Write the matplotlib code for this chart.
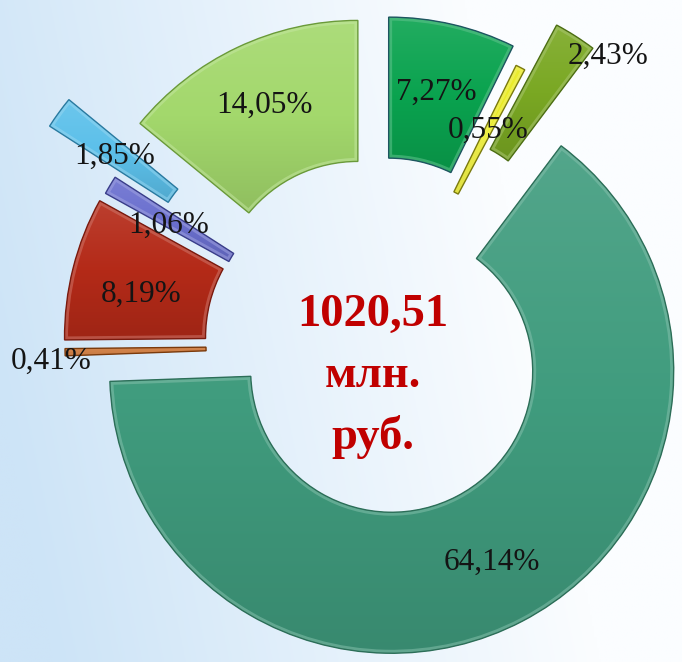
import numpy as np
import matplotlib
matplotlib.use("Agg")
import matplotlib.pyplot as plt
from matplotlib.colors import to_rgb, LinearSegmentedColormap
from matplotlib.patches import PathPatch

# ---- data (clockwise from 12 o'clock) ----
labels = ["7,27%", "0,55%", "2,43%", "64,14%", "0,41%", "8,19%", "1,06%", "1,85%", "14,05%"]
shares = [7.27, 0.55, 2.43, 64.14, 0.41, 8.19, 1.06, 1.85, 14.05]
center_lines = ["1020,51", "млн.", "руб."]

# ---- style ----
colors = ["#0aa34f", "#e9ea1c", "#7aa823", "#409c7e", "#c4621c", "#b42a18", "#6b70cf", "#5cc0ea", "#a3d86c"]
edges = ["#1d5560", "#7a7a10", "#4d6e14", "#2c6e58", "#7a3a0c", "#7a1a0e", "#3a3e8a", "#2a7aa0", "#6a9a3a"]
explode = [0.167, 0.106, 0.30, 0.105, 0.11, 0.115, 0.106, 0.40, 0.167]
label_r = [0.92, 0.855, 1.31, 0.87, 1.16, 0.86, 0.855, 1.15, 0.94]
label_dtheta = [0, 0, 6, 0, -1.5, -2, -1, -0.5, 0]


def mix(c, other, t):
    c = np.array(to_rgb(c))
    return tuple(c * (1 - t) + np.array(other) * t)


W, H = 682, 662
fig = plt.figure(figsize=(W / 100, H / 100), dpi=100)
ax = fig.add_axes([0, 0, 1, 1])

scale = 282.0
cx, cy = 378.0, 345.0
xlim = (-cx / scale, (W - cx) / scale)
ylim = (-(H - cy) / scale, cy / scale)

# background gradient
xs = np.linspace(0, 1, 300)
ys = np.linspace(0, 1, 300)
X, Y = np.meshgrid(xs, ys)
left = np.array(to_rgb("#cde4f7"))
right = np.array(to_rgb("#fbfdff"))
t = np.clip(X * 1.25 + (1 - Y) * 0.25 - 0.1, 0, 1)[..., None]
img = left * (1 - t) + right * t
ax.imshow(img, extent=(xlim[0], xlim[1], ylim[0], ylim[1]), origin="upper",
          aspect="auto", zorder=0)

wedges, _ = ax.pie(shares, colors=colors, explode=explode, startangle=90,
                   counterclock=False, radius=1.0,
                   wedgeprops=dict(width=0.5, linewidth=0))

grad = np.linspace(0, 1, 256).reshape(-1, 1)
for w, c, ec in zip(wedges, colors, edges):
    w.set_zorder(2)
    path = w.get_path()
    ext = path.get_extents()
    cmap = LinearSegmentedColormap.from_list(
        "g", [mix(c, (0, 0, 0), 0.12), c, mix(c, (1, 1, 1), 0.10)])
    im = ax.imshow(grad, extent=(ext.x0, ext.x1, ext.y0, ext.y1), origin="lower",
                   cmap=cmap, aspect="auto", zorder=2.1, interpolation="bilinear")
    im.set_clip_path(w)
    hl = PathPatch(path, facecolor="none", edgecolor=mix(c, (1, 1, 1), 0.35),
                   linewidth=5, alpha=0.55, zorder=2.2, transform=ax.transData)
    ax.add_patch(hl)
    hl.set_clip_path(w)
    ol = PathPatch(path, facecolor="none", edgecolor=ec, linewidth=1.0,
                   zorder=2.3, transform=ax.transData)
    ax.add_patch(ol)

ax.set_xlim(*xlim)
ax.set_ylim(*ylim)
ax.set_aspect("auto")
ax.axis("off")

# labels
total = sum(shares)
cum = 0.0
for i, (lab, s) in enumerate(zip(labels, shares)):
    mid = (cum + s / 2) / total * 360.0 + label_dtheta[i]
    cum += s
    th = np.deg2rad(mid)
    x = label_r[i] * np.sin(th)
    y = label_r[i] * np.cos(th)
    ax.text(x, y, lab, ha="center", va="center", fontsize=22.5,
            family="Liberation Serif", color="#141414", zorder=5)

# center text
for k, line in enumerate(center_lines):
    ax.text(-0.018, 0.105 - k * 0.215, line, ha="center", va="center",
            fontsize=33.5, fontweight="bold", family="Liberation Serif",
            color="#c00000", zorder=5)

fig.savefig("out.png", dpi=100)
